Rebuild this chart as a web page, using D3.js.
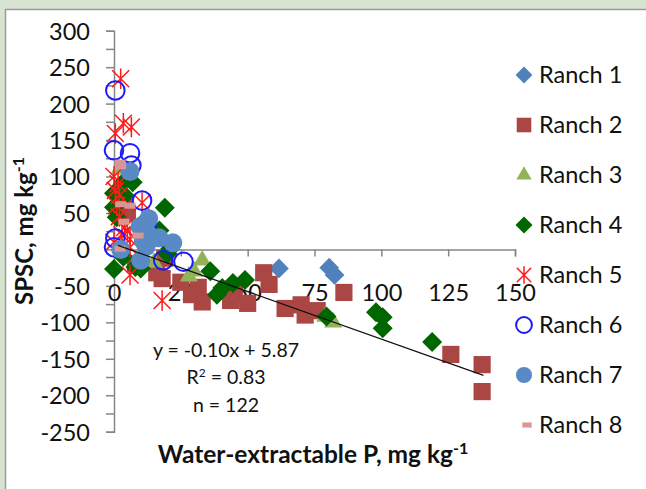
<!DOCTYPE html>
<html>
<head>
<meta charset="utf-8">
<script src="https://cdn.jsdelivr.net/npm/d3@7"></script>
<style>
  html, body { margin: 0; padding: 0; background: #d7e4d1; }
  svg { display: block; font-family: Lato, "Open Sans", sans-serif; }
</style>
</head>
<body>
<div id="chart-container"></div>
<script>
// values: [water-extractable P, SPSC]
const ranch1 = [[61.7, -26], [80.5, -25], [82.5, -35]];
const ranch2 = [
    [137.7, -158], [137.7, -195], [126, -144], [86, -59], [76, -84], [71.5, -90],
    [70, -76], [64, -81], [58, -48], [56, -32], [50, -74], [45, -60], [43.6, -70],
    [33, -72], [31.5, -52], [29, -62], [25, -45], [18, -40], [16, -32], [19, -12],
    [5, 49], [4, 58], [8, -20]
];
const ranch3 = [[33, -15], [30, -30], [28, -37], [82, -100], [79, -92], [15, -18], [2, 110]];
const ranch4 = [
    [119, -127], [98, -86], [100.5, -93], [100.5, -108], [79.5, -92], [49, -42],
    [44.5, -46], [38.5, -62], [40.5, -53], [36, -30], [19, 57], [17, 26], [21, 1],
    [0, -27], [10, -26], [3.5, 92], [7, 92], [0, 58], [1, 44], [0, 77], [4, 74],
    [3.5, -10], [20, -6], [8, -24]
];
const ranch5 = [
    [2.5, 234], [0.5, 159], [3.5, 173], [6.5, 168], [0, 100], [1.5, 90], [0.5, 81],
    [2, 74], [10.5, 64], [6, -35], [18, -70], [0, 10], [6, 3], [2, 45], [4, 30],
    [3, 20], [6, 14], [1, 60], [5, 25]
];
const ranch6 = [
    [0.5, 218], [0, 136], [6, 132], [6.5, 115], [10.5, 67], [12.3, 36], [0.5, 15],
    [0, 3], [18.4, -15], [26, -17]
];
const ranch7 = [
    [6, 107], [9.7, 31], [11.5, 35], [12.5, 22], [16.8, 16], [22, 9], [11, 12],
    [12, 4], [10, -15], [2.5, 0], [13, 42]
];
const ranch8 = [[2.3, 119], [2.5, 114], [2.5, 62], [6, 60], [3.7, 38], [9, 19], [2.3, 1]];

const ranchNames = ["Ranch 1", "Ranch 2", "Ranch 3", "Ranch 4", "Ranch 5", "Ranch 6", "Ranch 7", "Ranch 8"];
const xTicks = [0, 25, 50, 75, 100, 125, 150];
const yTicks = [-250, -200, -150, -100, -50, 0, 50, 100, 150, 200, 250, 300];
const trend = [[1.5, 5.5], [138.2, -172.8]];
const trendLabels = ["y = -0.10x + 5.87", "R2 = 0.83", "n = 122"];

const svgWidth = 646;
const svgHeight = 489;

const svg = d3.select("#chart-container")
    .append("svg")
    .attr("width", svgWidth)
    .attr("height", svgHeight);

// white chart area inside the greenish frame
svg.append("rect")
    .attr("x", 5.5).attr("y", 9.5)
    .attr("width", svgWidth).attr("height", svgHeight)
    .attr("fill", "#fff")
    .attr("stroke", "#9a9a9a")
    .attr("stroke-width", 1.5);

const x = d3.scaleLinear().domain([0, 150]).range([114, 515]);
const y = d3.scaleLinear().domain([-250, 300]).range([431.7, 30.7]);

// y axis, ticks every 25
svg.append("g")
    .attr("transform", `translate(${x(0)},0)`)
    .call(d3.axisLeft(y)
        .tickValues(d3.range(-250, 301, 25))
        .tickSize(8)
        .tickFormat(d => yTicks.includes(d) ? String(d) : ""))
    .call(g => g.selectAll("text")
        .attr("x", -24).attr("dy", "0.36em")
        .attr("font-size", 23.5).attr("font-family", "Lato").attr("fill", "#111"))
    .call(g => g.selectAll("line, path").attr("stroke", "#868686").attr("stroke-width", 1.5));

// x axis crossing at 0, labels set lower as in the picture
svg.append("g")
    .attr("transform", `translate(0,${y(0)})`)
    .call(d3.axisBottom(x)
        .tickValues(xTicks)
        .tickSize(7)
        .tickFormat(d => String(d)))
    .call(g => g.selectAll("text")
        .attr("y", 52).attr("dy", 0)
        .attr("font-size", 23.5).attr("font-family", "Lato").attr("fill", "#111"))
    .call(g => g.selectAll("line, path").attr("stroke", "#868686").attr("stroke-width", 1.5));

// marker drawers
const starPath = r => `M${-r},${-r}L${r},${r}M${-r},${r}L${r},${-r}M0,${-r * 1.2}L0,${r * 1.2}`;

const series = [
    { name: ranchNames[0], pts: ranch1, draw: (g, s) => g.append("path").attr("d", d3.symbol(d3.symbolSquare, 195 * s * s)()).attr("transform", "rotate(45)").attr("fill", "#4f81bd") },
    { name: ranchNames[1], pts: ranch2, draw: (g, s) => g.append("path").attr("d", d3.symbol(d3.symbolSquare, 295 * s * s)()).attr("fill", "#aa4643") },
    { name: ranchNames[2], pts: ranch3, draw: (g, s) => g.append("path").attr("d", d3.symbol(d3.symbolTriangle, 140 * s * s)()).attr("fill", "#93b35a") },
    { name: ranchNames[3], pts: ranch4, draw: (g, s) => g.append("path").attr("d", d3.symbol(d3.symbolSquare, 200 * s * s)()).attr("transform", "rotate(45)").attr("fill", "#006600") },
    { name: ranchNames[4], pts: ranch5, draw: (g, s) => g.append("path").attr("d", starPath(8.5 * s)).attr("fill", "none").attr("stroke", "#ff1a1a").attr("stroke-width", 1.5) },
    { name: ranchNames[5], pts: ranch6, draw: (g, s) => g.append("circle").attr("r", 9.3 * s).attr("fill", "none").attr("stroke", "#1a1aff").attr("stroke-width", 2) },
    { name: ranchNames[6], pts: ranch7, draw: (g, s) => g.append("circle").attr("r", 9.5 * s).attr("fill", "#5a8ac6") },
    { name: ranchNames[7], pts: ranch8, draw: (g, s) => g.append("rect").attr("x", -5.5 * s).attr("y", -3 * s).attr("width", 11 * s).attr("height", 6 * s).attr("fill", "#d99694") }
];

series.forEach(sr => {
    svg.append("g").selectAll("g")
        .data(sr.pts)
        .enter()
        .append("g")
        .attr("transform", d => `translate(${x(d[0])},${y(d[1])})`)
        .each(function () { sr.draw(d3.select(this), 1); });
});

// trend line
svg.append("path")
    .datum(trend)
    .attr("fill", "none")
    .attr("stroke", "#111")
    .attr("stroke-width", 1.2)
    .attr("d", d3.line().x(d => x(d[0])).y(d => y(d[1])));

// trend text
const eq = svg.append("g").attr("font-size", 19.5).attr("fill", "#111").attr("text-anchor", "middle");
eq.append("text").attr("x", 226).attr("y", 357).text(trendLabels[0]);
const r2 = eq.append("text").attr("x", 226).attr("y", 384);
r2.append("tspan").text("R");
r2.append("tspan").attr("dy", -7).attr("font-size", 12).text("2");
r2.append("tspan").attr("dy", 7).text(trendLabels[1].slice(2));
eq.append("text").attr("x", 226).attr("y", 412).text(trendLabels[2]);

// legend
series.forEach((sr, i) => {
    const ly = 75 + i * 50;
    const mg = svg.append("g").attr("transform", `translate(${i === 7 ? 527 : 524},${ly})`);
    sr.draw(mg, 0.85);
    svg.append("text")
        .attr("x", 539).attr("y", ly).attr("dy", "0.36em")
        .attr("font-size", 23.5).attr("fill", "#111")
        .text(sr.name);
});

// axis titles
const xt = svg.append("text")
    .attr("x", 313).attr("y", 463)
    .attr("text-anchor", "middle")
    .attr("font-size", 24.5).attr("font-weight", "bold").attr("fill", "#111");
xt.append("tspan").text("Water-extractable P, mg kg");
xt.append("tspan").attr("dy", -9).attr("font-size", 16).text("-1");

const yt = svg.append("text")
    .attr("transform", "translate(33,231) rotate(-90)")
    .attr("text-anchor", "middle")
    .attr("font-size", 24).attr("font-weight", "bold").attr("fill", "#111");
yt.append("tspan").text("SPSC, mg kg");
yt.append("tspan").attr("dy", -9).attr("font-size", 16).text("-1");
</script>
</body>
</html>
